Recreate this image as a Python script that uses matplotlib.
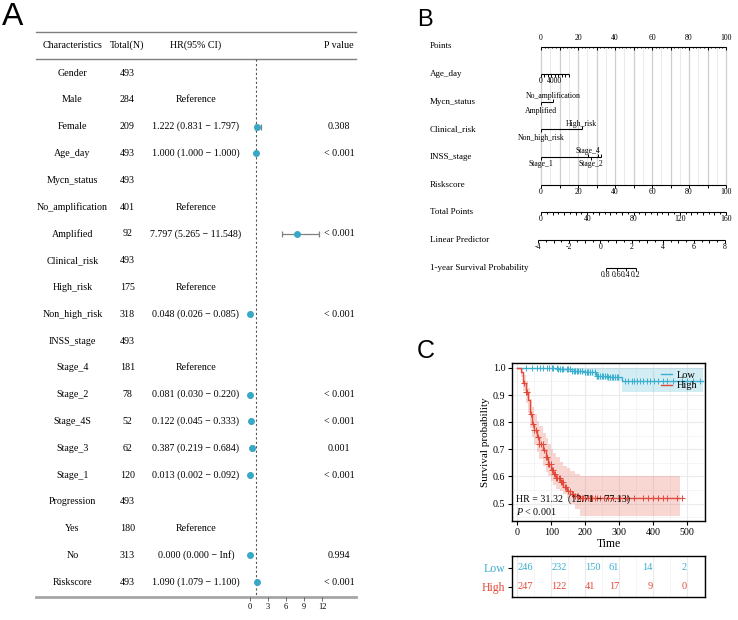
import numpy as np
import matplotlib
matplotlib.use("Agg")
import matplotlib.pyplot as plt
from matplotlib.lines import Line2D

plt.rcParams['font.family'] = ['Liberation Serif', 'DejaVu Serif']
plt.rcParams['mathtext.fontset'] = 'custom'
plt.rcParams['mathtext.rm'] = 'Liberation Serif'
plt.rcParams['mathtext.it'] = 'Liberation Serif:italic'

# ---------------- data: panel A (forest plot) ----------------
characteristics = ['Gender', 'Male', 'Female', 'Age_day', 'Mycn_status', 'No_amplification',
                   'Amplified', 'Clinical_risk', 'High_risk', 'Non_high_risk', 'INSS_stage',
                   'Stage_4', 'Stage_2', 'Stage_4S', 'Stage_3', 'Stage_1', 'Progression',
                   'Yes', 'No', 'Riskscore']
total_n = [493, 284, 209, 493, 493, 401, 92, 493, 175, 318, 493, 181, 78, 52, 62, 120,
           493, 180, 313, 493]
nan = np.nan
hr = [nan, nan, 1.222, 1.000, nan, nan, 7.797, nan, nan, 0.048, nan, nan, 0.081, 0.122,
      0.387, 0.013, nan, nan, 0.000, 1.090]
hr_low = [nan, nan, 0.831, 1.000, nan, nan, 5.265, nan, nan, 0.026, nan, nan, 0.030, 0.045,
          0.219, 0.002, nan, nan, 0.000, 1.079]
hr_high = [nan, nan, 1.797, 1.000, nan, nan, 11.548, nan, nan, 0.085, nan, nan, 0.220, 0.333,
           0.684, 0.092, nan, nan, np.inf, 1.100]
is_reference = ['Male', 'No_amplification', 'High_risk', 'Stage_4', 'Yes']
p_values = ['', '', '0.308', '< 0.001', '', '', '< 0.001', '', '', '< 0.001', '', '',
            '< 0.001', '< 0.001', '0.001', '< 0.001', '', '', '0.994', '< 0.001']
headers = ['Characteristics', 'Total(N)', 'HR(95% CI)', 'P value']
forest_ticks = [0, 3, 6, 9, 12]

# ---------------- data: panel B (nomogram) ----------------
nomo_rows = ['Points', 'Age_day', 'Mycn_status', 'Clinical_risk', 'INSS_stage', 'Riskscore',
             'Total Points', 'Linear Predictor', '1-year Survival Probability']
age_ticks = [0, 1000, 2000, 3000, 4000, 5000, 6000, 7000, 8000]
age_labels = ['0', '', '', '', '4000', '', '', '', '']
age_max_points = 15.0
mycn_levels = ['Amplified', 'No_amplification']
mycn_points = [0, 6.5]
clin_levels = ['Non_high_risk', 'High_risk']
clin_points = [0, 22.0]
inss_levels = ['Stage_1', 'Stage_4', 'Stage_2', 'Stage_3', 'Stage_4S']
inss_points = [0, 25.4, 26.8, 31.0, 32.4]
inss_shown = [True, True, True, False, False]
risk_ticks = list(range(0, 101, 10))
total_ticks = list(range(0, 161, 10))
lp_ticks = list(np.arange(-4, 8.01, 0.5))
lp_ends_total = (-2.6, 159.2)       # total points at LP = -4 and LP = 8
surv_probs = ['0.8', '0.6', '0.4', '0.2']
surv_total_points = [56.2, 65.7, 73.5, 82.2]

# ---------------- data: panel C (Kaplan-Meier) ----------------
high_t = [0, 10, 18, 25, 32, 38, 43, 50, 57, 65, 77, 85, 92, 100, 106, 115, 126, 136, 146,
          156, 170, 185, 480]
high_s = [1.0, 0.985, 0.945, 0.91, 0.88, 0.83, 0.795, 0.77, 0.746, 0.72, 0.696, 0.67, 0.647,
          0.625, 0.61, 0.595, 0.578, 0.56, 0.548, 0.537, 0.527, 0.52, 0.52]
high_up = [1.0, 1.0, 0.975, 0.95, 0.925, 0.885, 0.855, 0.83, 0.805, 0.785, 0.76, 0.74, 0.72,
           0.70, 0.685, 0.67, 0.655, 0.64, 0.63, 0.62, 0.61, 0.60, 0.60]
high_lo = [1.0, 0.965, 0.915, 0.87, 0.835, 0.78, 0.745, 0.715, 0.69, 0.665, 0.64, 0.615, 0.60,
           0.585, 0.57, 0.555, 0.545, 0.535, 0.52, 0.50, 0.48, 0.455, 0.455]
high_censor = [20, 25, 30, 40, 45, 50, 55, 60, 65, 70, 75, 80, 85, 88, 92, 95, 98, 102, 105,
               108, 112, 115, 118, 122, 125, 128, 132, 135, 140, 145, 150, 155, 160, 165, 170,
               175, 180, 185, 190, 195, 200, 209, 215, 220, 228, 235, 245, 255, 268, 283, 304,
               325, 343, 372, 387, 401, 416, 431, 443, 472, 487]
low_t = [0, 118, 160, 200, 232, 265, 310, 548]
low_s = [1.0, 0.995, 0.99, 0.985, 0.972, 0.968, 0.953, 0.953]
low_up = [1.0, 1.0, 1.0, 1.0, 1.0, 1.0, 1.0, 1.0]
low_lo = [1.0, 0.985, 0.978, 0.97, 0.955, 0.95, 0.912, 0.912]
low_censor = [27, 42, 57, 67, 77, 87, 94, 101, 106, 116, 121, 126, 131, 136, 146, 151, 156,
              161, 166, 171, 175, 180, 185, 190, 200, 205, 210, 215, 220, 229, 234, 239, 244,
              249, 254, 259, 264, 269, 274, 279, 283, 288, 293, 298, 318, 328, 338, 343, 352,
              362, 370, 382, 392, 402, 416, 431, 441, 460, 485, 500, 520, 539]
risk_times = [0, 100, 200, 300, 400, 500]
low_at_risk = [246, 232, 150, 61, 14, 2]
high_at_risk = [247, 122, 41, 17, 9, 0]
hr_text = 'HR = 31.32  (12.71 \u2212 77.13)'
p_text = r'$P$ < 0.001'

W, H = 738, 620
fig = plt.figure(figsize=(W / 100, H / 100), dpi=100)


def add_px_axes(x0, y0, x1, y1):
    # axes placed by pixel box of the 738x620 canvas
    return fig.add_axes([x0 / W, 1 - y1 / H, (x1 - x0) / W, (y1 - y0) / H])


# ================= A =================
fig.text(2 / W, 1 - 17 / H, 'A', fontsize=23, family='Liberation Sans', va='center')
ylims = (19.55, -1.53)
ax_a = add_px_axes(36, 32, 356, 597)
ax_a.set_xlim(36, 356)
ax_a.set_ylim(*ylims)
ax_a.axis('off')
col_x = [72.5, 127.5, 196, 339]
for x, h in zip(col_x, headers):
    ax_a.text(x, -1.04, h, ha='center', va='center', fontsize=7.2)
ax_a.axhline(ylims[1], color='#7f7f7f', lw=1.0, clip_on=False)
ax_a.axhline(-0.52, color='#7f7f7f', lw=1.0, clip_on=False)
ax_a.axhline(ylims[0], color='#a6a6a6', lw=2.0, clip_on=False)
for i, name in enumerate(characteristics):
    ax_a.text(col_x[0], i, name, ha='center', va='center', fontsize=7.2)
    ax_a.text(col_x[1], i, str(total_n[i]), ha='center', va='center', fontsize=7.2)
    if name in is_reference:
        ax_a.text(col_x[2], i, 'Reference', ha='center', va='center', fontsize=7.2)
    elif not np.isnan(hr[i]):
        hi = 'Inf' if np.isinf(hr_high[i]) else f'{hr_high[i]:.3f}'
        ax_a.text(col_x[2], i, f'{hr[i]:.3f} ({hr_low[i]:.3f} \u2212 {hi})',
                  ha='center', va='center', fontsize=7.2)
    if p_values[i]:
        ax_a.text(col_x[3], i, p_values[i], ha='center', va='center', fontsize=7.2)

ax_f = add_px_axes(250, 32, 322, 597)
ax_f.set_xlim(0, 12)
ax_f.set_ylim(*ylims)
ax_f.patch.set_visible(False)
for s in ax_f.spines.values():
    s.set_visible(False)
ax_f.set_yticks([])
ax_f.set_xticks(forest_ticks)
ax_f.tick_params(axis='x', length=3, width=0.6, color='#555555', labelsize=6, pad=1)
ax_f.vlines(1, -0.52, ylims[0], colors='#555555', lw=0.8, linestyles=(0, (2, 2)))
for i in range(len(characteristics)):
    if np.isnan(hr[i]):
        continue
    if np.isfinite(hr_high[i]) and hr_high[i] > hr_low[i]:
        ax_f.errorbar(hr[i], i, xerr=[[hr[i] - hr_low[i]], [hr_high[i] - hr[i]]], fmt='none',
                      ecolor='#808080', elinewidth=0.9, capsize=2.5, capthick=0.9)
    ax_f.plot(hr[i], i, 'o', ms=4, color='#37A8C6', clip_on=False, zorder=3)

# ================= B =================
fig.text(417 / W, 1 - 20 / H, 'B', fontsize=17, family='Liberation Sans', va='center')
ROW = 27.65       # px per nomogram row
PXP = 1.85        # px per point
ax_b = add_px_axes(420, 30, 738, 292)
ax_b.set_xlim((420 - 541) / PXP, (738 - 541) / PXP)
ax_b.set_ylim((292 - 46.5) / ROW, (30 - 46.5) / ROW)
ax_b.axis('off')
LBL = 5.6


def b_line(row, x0, x1):
    ax_b.plot([x0, x1], [row, row], color='black', lw=0.8, solid_capstyle='butt')


def b_ticks(row, xs, length_px, direction=1):
    ax_b.vlines(xs, row, row + direction * length_px / ROW, colors='black', lw=0.7)


def b_labels(row, xs, texts, offset_px):
    for x, t in zip(xs, texts):
        if t:
            ax_b.text(x, row + offset_px / ROW, t, ha='center', va='center', fontsize=LBL)


for r, name in enumerate(nomo_rows):
    ax_b.text((430 - 541) / PXP, r, name, ha='left', va='center', fontsize=6.5)

# grid
ax_b.vlines(np.arange(5, 100, 10), 0, 5, colors='#e6e6e6', lw=0.6, zorder=0)
ax_b.vlines(np.arange(0, 101, 10), 0, 5, colors='#cfcfcf', lw=0.9, zorder=0)

# Points
pts = np.arange(0, 101, 10)
b_line(0, 0, 100)
b_ticks(0, pts, 3)
b_ticks(0, np.arange(0, 101, 2), 1.5)
b_labels(0, pts[::2], [str(p) for p in pts[::2]], -8)

# Age_day
age_x = np.array(age_ticks) / age_ticks[-1] * age_max_points
b_line(1, 0, age_x[-1])
b_ticks(1, age_x, 3)
b_labels(1, age_x, age_labels, 7)

# Mycn_status
b_line(2, min(mycn_points), max(mycn_points))
b_ticks(2, [mycn_points[0]], 3, 1)
b_labels(2, [mycn_points[0]], [mycn_levels[0]], 9)
b_ticks(2, [mycn_points[1]], 3, -1)
b_labels(2, [mycn_points[1]], [mycn_levels[1]], -5.5)

# Clinical_risk
b_line(3, min(clin_points), max(clin_points))
b_ticks(3, [clin_points[0]], 3, 1)
b_labels(3, [clin_points[0]], [clin_levels[0]], 8.5)
b_ticks(3, [clin_points[1]], 3, -1)
b_labels(3, [clin_points[1]], [clin_levels[1]], -5.5)

# INSS_stage
b_line(4, min(inss_points), max(inss_points))
for k, (lev, p, show) in enumerate(zip(inss_levels, inss_points, inss_shown)):
    up = lev in ('Stage_4', 'Stage_3', 'Stage_4S')
    b_ticks(4, [p], 3, -1 if up else 1)
    if show:
        b_labels(4, [p], [lev], -6 if up else 7)

# Riskscore
b_line(5, 0, 100)
b_ticks(5, risk_ticks, 3)
b_labels(5, risk_ticks[::2], [str(v) for v in risk_ticks[::2]], 7.5)

# Total Points
tp_x = np.array(total_ticks) * 100 / 160
b_line(6, 0, 100)
b_ticks(6, tp_x, 2.5)
b_ticks(6, np.arange(0, 161, 5) * 100 / 160, 1.5)
b_labels(6, tp_x, [str(v) if v % 40 == 0 else '' for v in total_ticks], 7)

# Linear Predictor
lp_tp = lp_ends_total[0] + (np.array(lp_ticks) + 4) / 12 * (lp_ends_total[1] - lp_ends_total[0])
lp_x = lp_tp * 100 / 160
b_line(7, lp_x[0], lp_x[-1])
b_ticks(7, lp_x, 1.5)
b_ticks(7, lp_x[::2], 3)
b_labels(7, lp_x[::4], [f'{v:g}' for v in lp_ticks[::4]], 7)

# 1-year survival
sv_x = np.array(surv_total_points) * 100 / 160
b_line(8, sv_x[0], sv_x[-1])
b_ticks(8, sv_x, 3)
b_labels(8, sv_x, surv_probs, 7)

# ================= C =================
fig.text(417 / W, 1 - 351 / H, 'C', fontsize=18, family='Liberation Sans', va='center')
BLUE = '#3AAFCF'
RED = '#E2493A'
XL = (-14.8, 554)
ax_c = add_px_axes(512.3, 363.3, 705, 520.7)
ax_c.set_xlim(*XL)
ax_c.set_ylim(0.437, 1.017)
ax_c.set_xticks(range(0, 501, 100))
ax_c.set_xticks(range(50, 551, 100), minor=True)
ax_c.set_yticks(np.arange(0.5, 1.01, 0.1))
ax_c.set_yticks(np.arange(0.45, 1.0, 0.1), minor=True)
ax_c.set_yticklabels([f'{v:.1f}' for v in np.arange(0.5, 1.01, 0.1)])
ax_c.grid(which='major', color='#ebebeb', lw=0.8)
ax_c.grid(which='minor', color='#f2f2f2', lw=0.5)
ax_c.set_axisbelow(True)
ax_c.tick_params(which='major', labelsize=7.2, length=3, width=0.8, pad=2)
ax_c.tick_params(which='minor', length=0)
for s in ax_c.spines.values():
    s.set_linewidth(1.0)


def step_at(ts, ss, q):
    idx = np.searchsorted(ts, q, side='right') - 1
    return np.asarray(ss)[idx]


ax_c.fill_between(low_t, low_lo, low_up, step='post', color=BLUE, alpha=0.22, lw=0)
ax_c.fill_between(high_t, high_lo, high_up, step='post', color=RED, alpha=0.22, lw=0)
ax_c.step(low_t, low_s, where='post', color=BLUE, lw=1.0)
ax_c.step(high_t, high_s, where='post', color=RED, lw=1.0)
ax_c.plot(low_censor, step_at(low_t, low_s, low_censor), '+', color=BLUE, ms=5, mew=0.7)
ax_c.plot(high_censor, step_at(high_t, high_s, high_censor), '+', color=RED, ms=5, mew=0.7)
ax_c.text(-3, 0.5175, hr_text, fontsize=7.2, va='center', ha='left', zorder=5)
ax_c.text(-3, 0.471, p_text, fontsize=7.2, va='center', ha='left', zorder=5)
ax_c.set_ylabel('Survival probability', fontsize=8, labelpad=2)
ax_c.set_xlabel('Time', fontsize=8.5, labelpad=1)
ax_c.legend(handles=[Line2D([], [], color=BLUE, lw=1), Line2D([], [], color=RED, lw=1)],
            labels=['Low', 'High'], loc='upper right', frameon=False, fontsize=7.5,
            handlelength=1.0, handletextpad=0.5, labelspacing=0.1, borderaxespad=0.3)

ax_r = add_px_axes(512.3, 556, 705, 597.3)
ax_r.set_xlim(*XL)
ax_r.set_ylim(-0.558, 1.616)
ax_r.set_xticks(range(0, 501, 100))
ax_r.set_xticks(range(50, 551, 100), minor=True)
ax_r.grid(which='major', axis='x', color='#ebebeb', lw=0.8)
ax_r.grid(which='minor', axis='x', color='#f2f2f2', lw=0.5)
ax_r.set_axisbelow(True)
ax_r.tick_params(axis='x', which='both', length=0, labelbottom=False)
ax_r.set_yticks([1, 0])
ax_r.set_yticklabels(['Low', 'High'], fontsize=8.5)
ax_r.tick_params(axis='y', length=3, width=0.8, pad=2)
for lab, c in zip(ax_r.get_yticklabels(), [BLUE, RED]):
    lab.set_color(c)
for s in ax_r.spines.values():
    s.set_linewidth(1.0)
for t, lo_n, hi_n in zip(risk_times, low_at_risk, high_at_risk):
    ha = 'left' if t < 250 else 'right'
    ax_r.text(t, 1, str(lo_n), color=BLUE, ha=ha, va='center', fontsize=7.5)
    ax_r.text(t, 0, str(hi_n), color=RED, ha=ha, va='center', fontsize=7.5)

fig.savefig('out.png', dpi=100)
